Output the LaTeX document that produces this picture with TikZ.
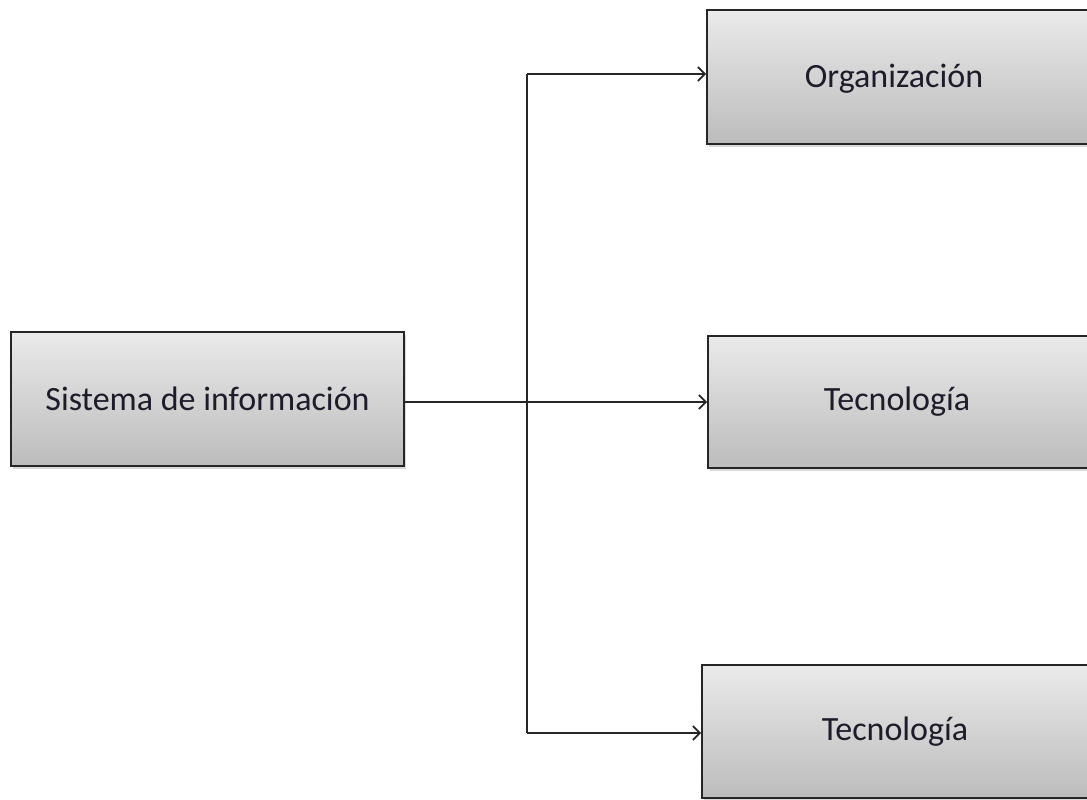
\documentclass[tikz,border=0pt]{standalone}
\usepackage{fontspec}
\setmainfont{Carlito}
\usetikzlibrary{arrows.meta,shadows}
\definecolor{boxtop}{HTML}{EAEAEA}
\definecolor{boxbot}{HTML}{BCBCBC}
\definecolor{txt}{HTML}{1C1C2A}
\begin{document}
\begin{tikzpicture}[x=1pt,y=-1pt,
  box/.style={rectangle, draw=black!85, line width=1.8pt, top color=boxtop, bottom color=boxbot,
    minimum height=134pt, inner sep=0pt, font=\fontsize{34}{40}\selectfont, text=txt,
    drop shadow={shadow xshift=1.5pt, shadow yshift=-3pt, opacity=0.3}},
  labtext/.style={font=\fontsize{34}{40}\selectfont, text=txt, inner sep=0pt},
  conn/.style={line width=1.7pt, draw=black!85},
  arr/.style={conn, -{Straight Barb[length=7pt,width=14pt,line width=1.7pt]}}]
\useasboundingbox (0,0) rectangle (1087,800);
\node[box, minimum width=393pt] (si) at (207.5,399) {Sistema de información};
\node[box, minimum width=390pt, label={[labtext, xshift=-8pt, yshift=-2pt]center:Organización}] (org) at (902,77) {};
\node[box, minimum width=390pt, minimum height=132pt, label={[labtext, xshift=-6pt]center:Tecnología}] (tm) at (903,402) {};
\node[box, minimum width=390pt, minimum height=133pt, label={[labtext, xshift=-2pt]center:Tecnología}] (tb) at (897,731.5) {};
\coordinate (jt) at (527,74);
\coordinate (jb) at (527,733);
\draw[conn] (jt) -- (jb);
\draw[arr] (si.east |- tm.west) -- (tm.west);
\draw[arr] (jt) -- (jt -| org.west);
\draw[arr] (jb) -- (jb -| tb.west);
\end{tikzpicture}
\end{document}
